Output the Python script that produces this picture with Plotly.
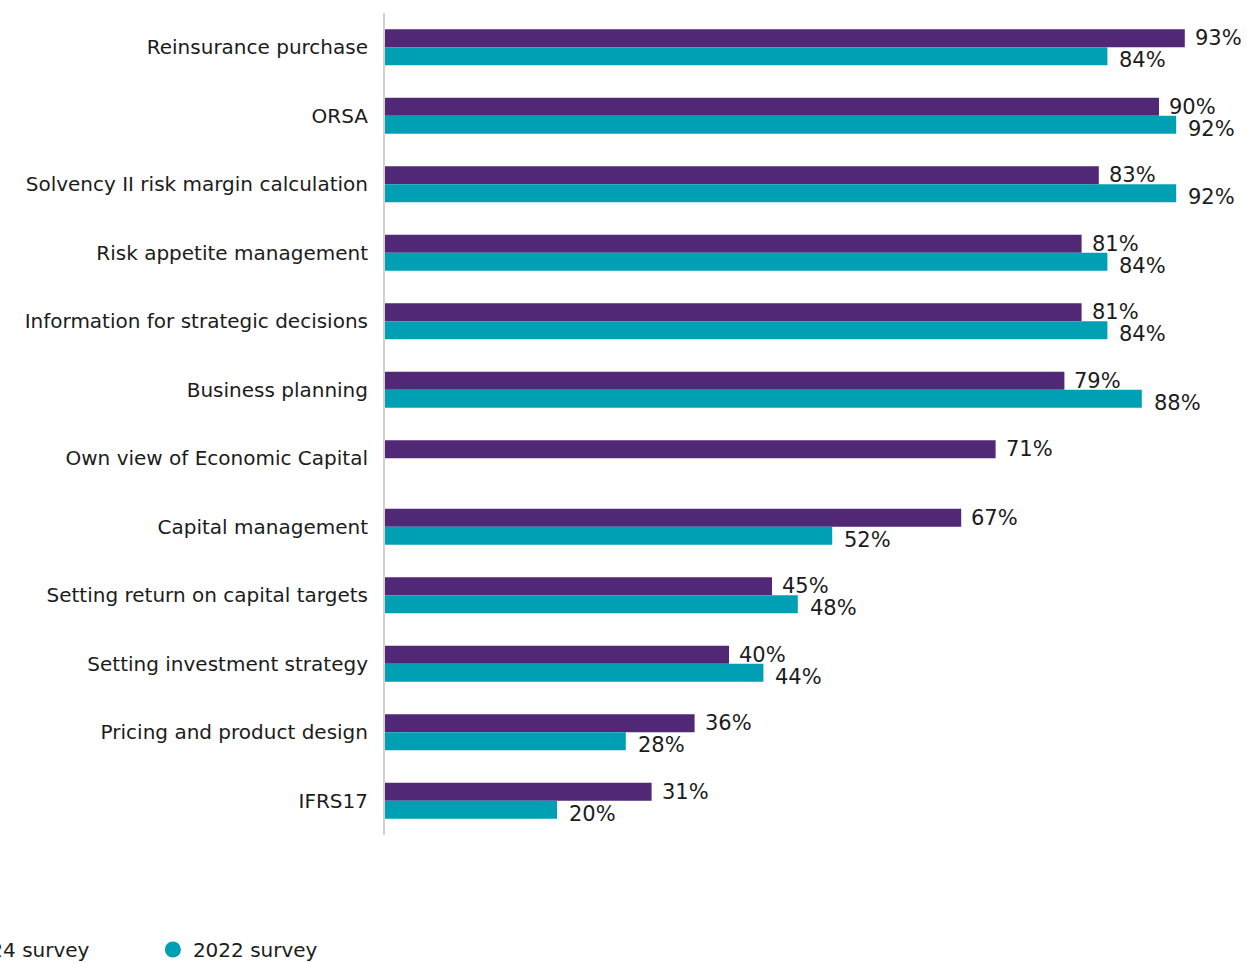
import plotly.graph_objects as go

categories = [
    "Reinsurance purchase",
    "ORSA",
    "Solvency II risk margin calculation",
    "Risk appetite management",
    "Information for strategic decisions",
    "Business planning",
    "Own view of Economic Capital",
    "Capital management",
    "Setting return on capital targets",
    "Setting investment strategy",
    "Pricing and product design",
    "IFRS17",
]
survey_2024 = [93, 90, 83, 81, 81, 79, 71, 67, 45, 40, 36, 31]
survey_2022 = [84, 92, 92, 84, 84, 88, None, 52, 48, 44, 28, 20]

PURPLE = "#512876"
TEAL = "#00a0b4"
TEXT = "#1c1c1c"
FONT = "DejaVu Sans"

fig = go.Figure()
fig.add_trace(go.Bar(y=categories, x=survey_2024, orientation="h",
                     marker=dict(color=PURPLE, line=dict(width=0)),
                     name="2024 survey", showlegend=False))
fig.add_trace(go.Bar(y=categories, x=survey_2022, orientation="h",
                     marker=dict(color=TEAL, line=dict(width=0)),
                     name="2022 survey", showlegend=False))

# round legend markers
for name, color in [("2024 survey", PURPLE), ("2022 survey", TEAL)]:
    fig.add_trace(go.Scatter(x=[None], y=[None], mode="markers", name=name,
                             marker=dict(symbol="circle", size=19, color=color)))

# value labels to the right of each bar
for cat, v in zip(categories, survey_2024):
    fig.add_annotation(x=v, y=cat, text=f"{v}%", xanchor="left", yanchor="middle",
                       showarrow=False, xshift=8, yshift=9,
                       font=dict(size=21, color=TEXT, family=FONT))
for cat, v in zip(categories, survey_2022):
    if v is None:
        continue
    fig.add_annotation(x=v, y=cat, text=f"{v}%", xanchor="left", yanchor="middle",
                       showarrow=False, xshift=10, yshift=-13,
                       font=dict(size=21, color=TEXT, family=FONT))

fig.update_layout(
    width=1247, height=963,
    barmode="group", bargap=0.475, bargroupgap=0,
    plot_bgcolor="white", paper_bgcolor="white",
    margin=dict(l=385, r=2, t=13, b=128, autoexpand=False),
    font=dict(family=FONT, color=TEXT, size=20),
    xaxis=dict(range=[0, 100], visible=False, fixedrange=True),
    yaxis=dict(autorange="reversed", showline=True, linecolor="#d8d0ca", linewidth=2,
               ticks="", showgrid=False, ticklabelstandoff=11,
               tickfont=dict(size=20, color=TEXT, family=FONT)),
    legend=dict(orientation="h", xref="paper", yref="container",
                x=-0.535, y=0.014, xanchor="left", yanchor="middle",
                entrywidth=183, entrywidthmode="pixels",
                font=dict(size=20, color=TEXT, family=FONT),
                bgcolor="rgba(0,0,0,0)"),
)

fig.write_html("out.html")
